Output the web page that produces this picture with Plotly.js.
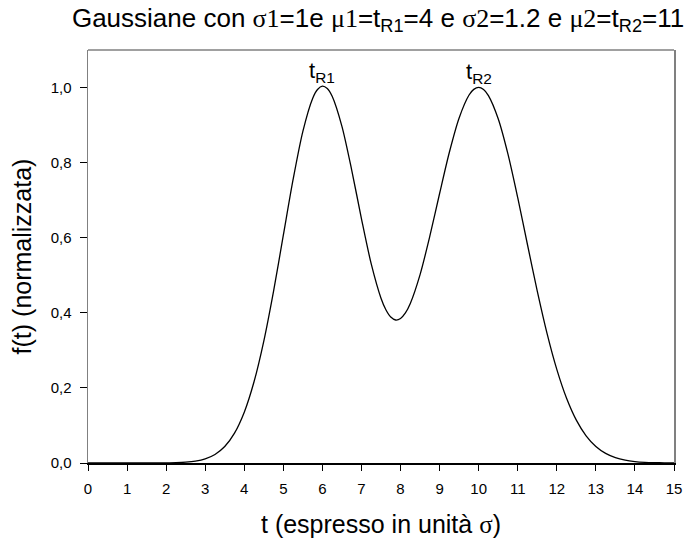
<!DOCTYPE html>
<html>
<head>
<meta charset="utf-8">
<script src="https://cdn.plot.ly/plotly-3.0.1.min.js"></script>
<style>
  html, body { margin: 0; padding: 0; background: #ffffff; }
  #chart { width: 686px; height: 547px; }
</style>
</head>
<body>
<div id="chart"></div>
<script>
// Time axis (units of sigma) and normalized signal of two overlapping peaks
const tValues = [
  0, 0.25, 0.5, 0.75, 1, 1.25, 1.5, 1.75, 2, 2.25, 2.5, 2.75, 3, 3.25, 3.5, 3.75,
  4, 4.25, 4.5, 4.75, 5, 5.25, 5.5, 5.75, 5.875, 6, 6.125, 6.25, 6.5, 6.75, 7, 7.25, 7.5, 7.625, 7.75,
  7.875, 8, 8.125, 8.25, 8.5, 8.75, 9, 9.25, 9.5, 9.75, 9.875, 10, 10.125, 10.25, 10.5, 10.75, 11, 11.25, 11.5, 11.75,
  12, 12.25, 12.5, 12.75, 13, 13.25, 13.5, 13.75, 14, 14.25, 14.5, 14.75, 15
];
const fValues = [
  0, 0, 0, 0, 0, 0.00001, 0.00004, 0.00012, 0.00034, 0.00088, 0.0022, 0.0051, 0.0111, 0.0228, 0.0439, 0.0796,
  0.1354, 0.2164, 0.3248, 0.4580, 0.6067, 0.7552, 0.8834, 0.9711, 0.9949, 1.0039, 0.9977, 0.9768, 0.8967, 0.7803, 0.6504, 0.5302, 0.4389, 0.4082, 0.3887,
  0.3809, 0.3847, 0.3996, 0.4248, 0.5018, 0.6041, 0.7178, 0.8277, 0.9190, 0.9794, 0.9951, 1.0003, 0.9948, 0.9786, 0.9169, 0.8226, 0.7067, 0.5813, 0.4578, 0.3453,
  0.2494, 0.1724, 0.1142, 0.0724, 0.0439, 0.0255, 0.0142, 0.0076, 0.0039, 0.0019, 0.0009, 0.0004, 0.0002
];

// Peak labels
const peakLabels = ['t<sub>R1</sub>', 't<sub>R2</sub>'];
const peakTimes = [6, 10];
const peakHeights = [1.0039, 1.0003];

const xTicks = [0, 1, 2, 3, 4, 5, 6, 7, 8, 9, 10, 11, 12, 13, 14, 15];
const yTicks = [0, 0.2, 0.4, 0.6, 0.8, 1.0];

const SANS = 'Liberation Sans, Arial, sans-serif';
const SERIF = 'font-family:Liberation Serif, Times New Roman, serif';

const titleText =
  'Gaussiane con <span style="' + SERIF + '">σ1</span>=1e ' +
  '<span style="' + SERIF + '">μ1</span>=t<sub>R1</sub>=4 e ' +
  '<span style="' + SERIF + '">σ2</span>=1.2 e ' +
  '<span style="' + SERIF + '">μ2</span>=t<sub>R2</sub>=11';

const trace = {
  x: tValues,
  y: fValues,
  type: 'scatter',
  mode: 'lines',
  line: { color: '#000000', width: 1.3, shape: 'spline', smoothing: 0.8 },
  hoverinfo: 'x+y'
};

const annotations = peakLabels.map((txt, i) => ({
  x: peakTimes[i],
  y: peakHeights[i],
  xref: 'x',
  yref: 'y',
  text: txt,
  showarrow: false,
  yanchor: 'bottom',
  xanchor: 'center',
  borderpad: 0,
  yshift: -1,
  font: { family: SANS, size: 22, color: '#000000' }
}));

const layout = {
  width: 686,
  height: 547,
  paper_bgcolor: '#ffffff',
  plot_bgcolor: '#ffffff',
  margin: { l: 88, r: 12, t: 50, b: 84 },
  separators: ',.',
  showlegend: false,
  title: {
    text: titleText,
    xref: 'paper',
    x: 0.495,
    xanchor: 'center',
    y: 0.968,
    yanchor: 'middle',
    font: { family: SANS, size: 26, color: '#000000' }
  },
  xaxis: {
    range: [0, 15],
    tickvals: xTicks,
    ticktext: xTicks.map(String),
    ticks: 'outside',
    ticklen: 6,
    tickcolor: '#000000',
    tickwidth: 1,
    ticklabelstandoff: 5,
    showline: true,
    linecolor: '#000000',
    linewidth: 1.5,
    showgrid: false,
    zeroline: false,
    tickfont: { family: SANS, size: 15, color: '#000000' },
    title: {
      text: 't (espresso in unità <span style="' + SERIF + '">σ</span>)',
      font: { family: SANS, size: 25, color: '#000000' },
      standoff: 20
    }
  },
  yaxis: {
    range: [0, 1.1],
    tickvals: yTicks,
    tickformat: '.1f',
    ticks: 'outside',
    ticklen: 7,
    tickcolor: '#000000',
    tickwidth: 1,
    ticklabelstandoff: 5,
    showline: true,
    linecolor: '#808080',
    linewidth: 1.5,
    mirror: true,
    showgrid: false,
    zeroline: false,
    tickfont: { family: SANS, size: 15, color: '#000000' },
    title: {
      text: 'f(t) (normalizzata)',
      font: { family: SANS, size: 25, color: '#000000' },
      standoff: 12
    }
  },
  shapes: [
    {
      type: 'line', xref: 'paper', yref: 'paper',
      x0: 0, x1: 1, y0: 1, y1: 1,
      line: { color: '#808080', width: 1.5 }
    }
  ],
  annotations: annotations
};

Plotly.newPlot('chart', [trace], layout, { displayModeBar: false, staticPlot: true });
</script>
</body>
</html>
